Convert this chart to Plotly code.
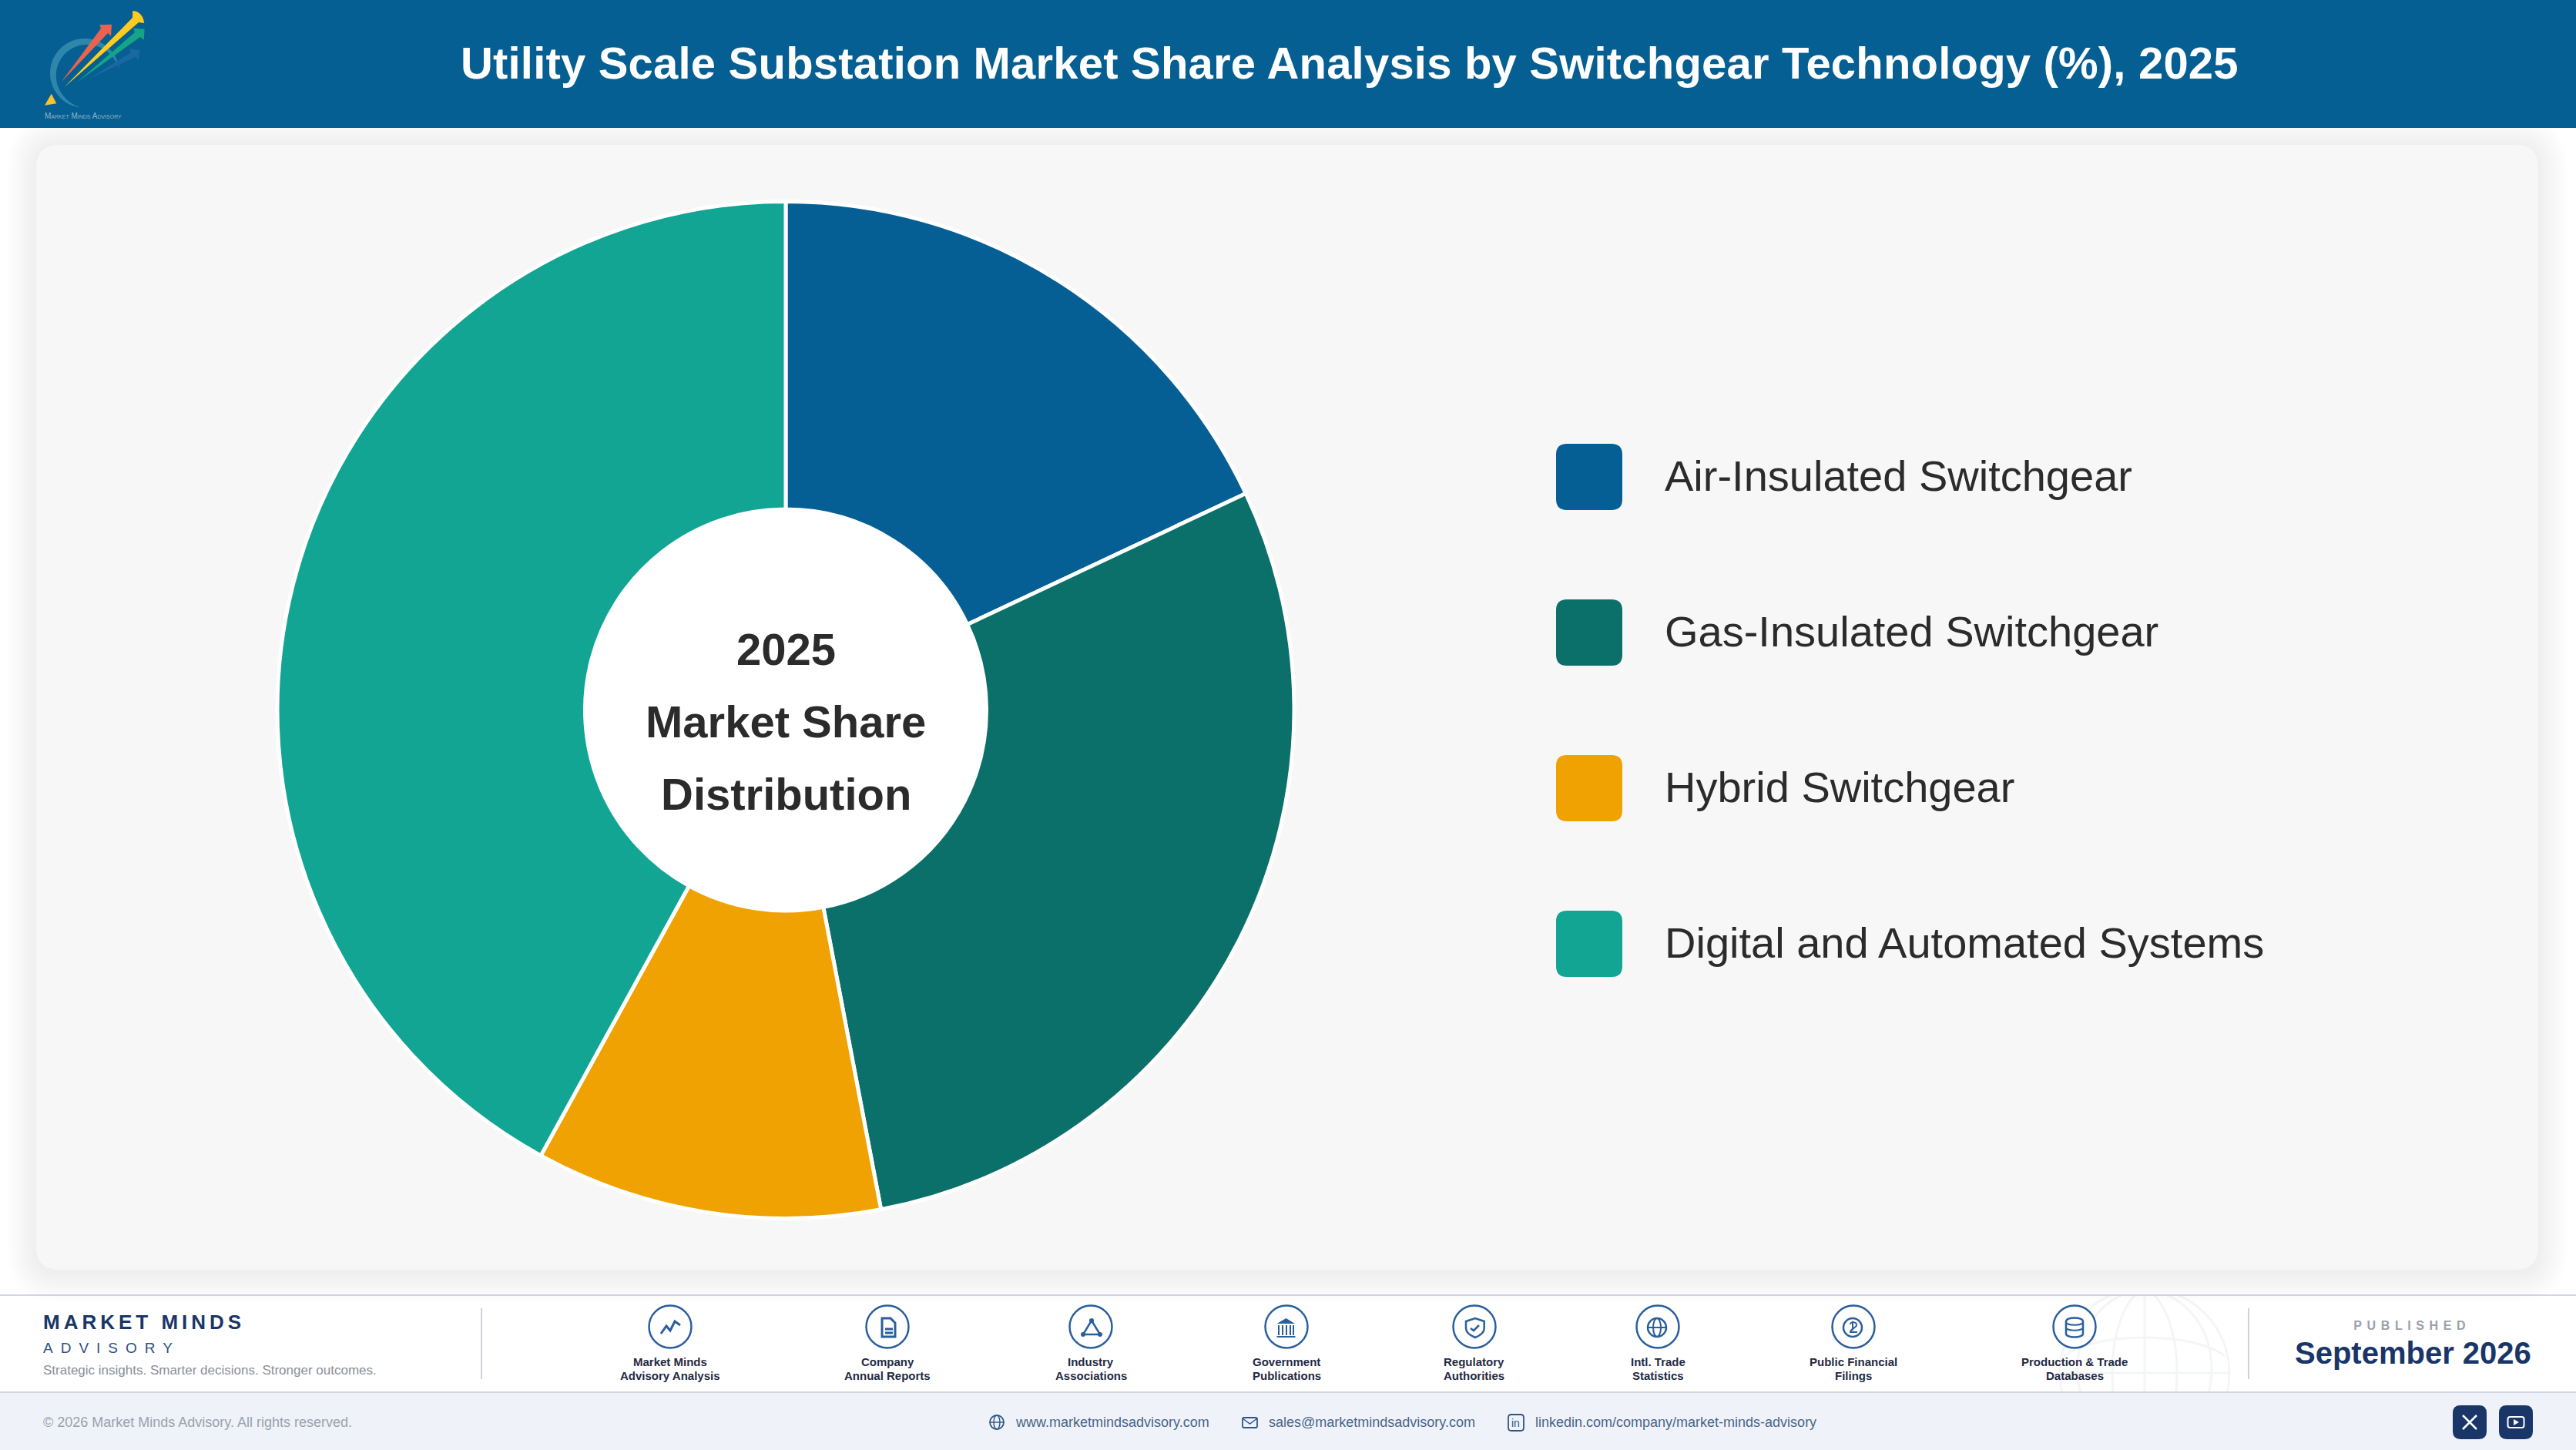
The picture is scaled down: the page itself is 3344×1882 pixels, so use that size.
import json
import numpy as np
import plotly.graph_objects as go

# constants:
W = 3344
H = 1882
HEADER_BLUE = "#055F92"
NAVY = "#1A3668"
ICON_BLUE = "#2A5F9E"
LABEL_DARK = "#1F2A44"
TEXT_DARK = "#2B2B2B"
FONT = "Liberation Sans"

# chart data:
title = "Utility Scale Substation Market Share Analysis by Switchgear Technology (%), 2025"
categories = ["Air-Insulated Switchgear", "Gas-Insulated Switchgear", "Hybrid Switchgear", "Digital and Automated Systems"]
shares = [18, 29, 11, 42]
colors = ["#065F94", "#0B7069", "#F0A202", "#12A594"]
center_lines = ["2025", "Market Share", "Distribution"]

# footer text:
source_line1 = ["Market Minds", "Company", "Industry", "Government", "Regulatory", "Intl. Trade", "Public Financial", "Production & Trade"]
source_line2 = ["Advisory Analysis", "Annual Reports", "Associations", "Publications", "Authorities", "Statistics", "Filings", "Databases"]
source_x = [870, 1152, 1416, 1670, 1914, 2152, 2406, 2693]
contact_text = ["www.marketmindsadvisory.com", "sales@marketmindsadvisory.com", "linkedin.com/company/market-minds-advisory"]
contact_x = [1317, 1646, 1992]

# extra tracking for the spaced out texts, set on the svg after the plot is drawn
letter_spacing = {"MARKET MINDS": 5, "ADVISORY": 10, "PUBLISHED": 6.6, title: 0.2}
shapes = []
annotations = []


# util functions:
def px(x):
    return x / W


def py(y):
    return 1 - y / H


def svg_path(d, cx=0, cy=0):
    # absolute M/L/Q/C/Z commands only, numbers are pixel pairs relative to cx, cy
    out = []
    tokens = d.replace(",", " ").split()
    i = 0
    while i < len(tokens):
        if tokens[i].isalpha():
            out.append(tokens[i])
            i += 1
        else:
            out.append(f"{px(float(tokens[i]) + cx):.6f},{py(float(tokens[i + 1]) + cy):.6f}")
            i += 2
    return " ".join(out)


def add_path(d, cx=0, cy=0, fill="rgba(0,0,0,0)", color=None, width=0, opacity=1.0):
    shapes.append(dict(type="path", xref="paper", yref="paper", path=svg_path(d, cx, cy), fillcolor=fill, opacity=opacity,
                       line=dict(color=color or "rgba(0,0,0,0)", width=width), layer="below"))


def add_rect(x0, y0, x1, y1, fill):
    shapes.append(dict(type="rect", xref="paper", yref="paper", x0=px(x0), x1=px(x1), y0=py(y0), y1=py(y1), fillcolor=fill, line=dict(width=0), layer="below"))


def add_ellipse(cx, cy, rx, ry, fill="rgba(0,0,0,0)", color=None, width=0):
    shapes.append(dict(type="circle", xref="paper", yref="paper", x0=px(cx - rx), x1=px(cx + rx), y0=py(cy - ry), y1=py(cy + ry), fillcolor=fill,
                       line=dict(color=color or "rgba(0,0,0,0)", width=width), layer="below"))


def rrect(x0, y0, x1, y1, r):
    return (f"M {x0 + r} {y0} L {x1 - r} {y0} Q {x1} {y0} {x1} {y0 + r} L {x1} {y1 - r} Q {x1} {y1} {x1 - r} {y1} "
            f"L {x0 + r} {y1} Q {x0} {y1} {x0} {y1 - r} L {x0} {y0 + r} Q {x0} {y0} {x0 + r} {y0} Z")


def add_text(text, x, y, size, color, bold=False, anchor="center", variant=None):
    font = dict(family=FONT, size=size, color=color, weight="bold" if bold else "normal")
    if variant:
        font["variant"] = variant
    annotations.append(dict(text=text, x=px(x), y=py(y), xref="paper", yref="paper", xanchor=anchor, yanchor="middle", align=anchor,
                            showarrow=False, font=font, borderpad=0))


def line_icon(d, cx, cy, width=3):
    add_path(d, cx, cy, color=ICON_BLUE, width=width)


# page background pieces
add_rect(0, 0, W, H, "#FFFFFF")

# faint globe behind the footer, covered above and below by the bands drawn after it
for d in ["M 2784 1672 C 2840 1700 2840 1860 2784 1892", "M 2784 1672 C 2728 1700 2728 1860 2784 1892",
          "M 2784 1672 C 2900 1690 2900 1860 2784 1892", "M 2784 1672 C 2668 1690 2668 1860 2784 1892",
          "M 2784 1672 L 2784 1892", "M 2674 1782 L 2894 1782", "M 2680 1760 C 2720 1728 2848 1728 2888 1760"]:
    add_path(d, color="#F4F5F7", width=3)
add_ellipse(2784, 1782, 110, 110, color="#F4F5F7", width=3)
add_rect(0, 1600, W, 1680, "#FFFFFF")
add_rect(0, 1807, W, H, "#EFF3F9")
add_rect(0, 1680, W, 1682, "#D3D5E4")
add_rect(0, 1806, W, 1808, "#D3D5E4")

# card with a soft shadow
for i in range(16, 0, -1):
    grow = i * 2.4
    add_path(rrect(47 - grow, 190 - grow, 3295 + grow, 1652 + grow, 30 + grow), fill="rgba(60,60,70,0.005)")
add_path(rrect(47, 188, 3295, 1648, 30), fill="#F7F7F8")

# header band
add_rect(0, 0, W, 166, HEADER_BLUE)

# logo
theta = np.radians(np.linspace(-82, 172, 60))
thick = 9 * np.sin(np.linspace(0, np.pi, 60)) ** 0.8
outer = [f"{110 - 45 * np.sin(t):.1f} {95 - 45 * np.cos(t):.1f}" for t in theta]
inner = [f"{110 - (45 - k) * np.sin(t):.1f} {95 - (45 - k) * np.cos(t):.1f}" for t, k in zip(theta[::-1], thick[::-1])]
add_path("M " + " L ".join(outer + inner) + " Z", fill="#2E87AB")
add_path("M 79.3 106.7 L 131 37 L 129.3 32.3 L 145 31.7 L 144 46.7 L 140 43 Z", fill="#E9634F")
add_path("M 83.3 113.3 L 172 23 L 172.3 14 Q 185 15 187.3 30 L 180 29 Z", fill="#FFCB1F")
add_path("M 100 106.7 L 175 42 L 173.3 36.7 L 187.7 37.7 L 186.7 51.7 L 182 48 Z", fill="#14A585")
add_path("M 113.3 103.3 L 170 68.3 L 168.3 63.3 L 181.7 65 L 180 78.3 L 175.7 74 Z", fill="#1A68A3")
add_path("M 66.7 121.7 L 73.3 134.3 L 58 136.7 Z", fill="#FBC02D")
add_text("Market Minds Advisory", 57, 150, 10, "#8FB3C9", anchor="left", variant="small-caps")

add_text(title, 1752, 81, 58, "#FFFFFF", bold=True)

# hole of the donut
hole_radius = 260.5
add_ellipse(1020, 921.5, hole_radius, hole_radius, fill="#FFFFFF")

# legend
for i, name in enumerate(categories):
    top = 576 + i * 202
    add_path(rrect(2020, top, 2106, top + 86, 14), fill=colors[i])
    add_text(name, 2160, top + 41, 56, TEXT_DARK, anchor="left")

for line, y in zip(center_lines, [842, 936, 1030]):
    add_text(line, 1020, y, 58, TEXT_DARK, bold=True)

# footer left block
add_text("MARKET MINDS", 55, 1716, 26, NAVY, bold=True, anchor="left")
add_text("ADVISORY", 55, 1749, 19, "#2E4F86", anchor="left")
add_text("Strategic insights. Smarter decisions. Stronger outcomes.", 55, 1778, 17, "#8A8F99", anchor="left")
add_rect(624, 1698, 626, 1790, "#CDD2DC")
add_rect(2918, 1698, 2920, 1790, "#CDD2DC")

# source icons
for x, l1, l2 in zip(source_x, source_line1, source_line2):
    add_ellipse(x, 1722, 27.5, 27.5, fill="#FFFFFF", color=ICON_BLUE, width=2.5)
    add_text(l1, x, 1767, 15, LABEL_DARK, bold=True)
    add_text(l2, x, 1785, 15, LABEL_DARK, bold=True)

line_icon("M -12 9 L -5 -1 L 0 5 L 6 -7 L 13 -2", source_x[0], 1722)
line_icon("M -7 -11 L 4 -11 L 10 -5 L 10 13 L -7 13 Z M -3 3 L 7 3 M -3 8 L 7 8", source_x[1], 1722)
line_icon("M 1 -8 L -10 10 L 12 10 Z", source_x[2], 1722, 2.5)
for nx, ny in [(1, -8), (-10, 10), (12, 10)]:
    add_ellipse(source_x[2] + nx, 1722 + ny, 3, 3, fill=ICON_BLUE)
add_path("M -12.5 -4 L -0.5 -11 L 11 -4 Z", source_x[3], 1722, fill=ICON_BLUE)
for cx in [-10, -5, 0, 5, 9]:
    add_rect(source_x[3] + cx - 1, 1720, source_x[3] + cx + 1, 1733, ICON_BLUE)
add_rect(source_x[3] - 12.5, 1734, source_x[3] + 11.5, 1736, ICON_BLUE)
line_icon("M -11 -7 L 1 -11 L 12.7 -7 L 12.7 2 C 12.7 8 6 12 1 14 C -4 12 -11 8 -11 2 Z", source_x[4], 1722, 2.5)
line_icon("M -5 2 L -1 5 L 6 -2", source_x[4], 1722, 2.5)
add_ellipse(source_x[5] - 1, 1723, 12, 12, color=ICON_BLUE, width=2.5)
add_ellipse(source_x[5] - 1, 1723, 5, 12, color=ICON_BLUE, width=2)
line_icon("M -13 1 L 11 1", source_x[5], 1722, 2)
add_ellipse(source_x[6] - 1, 1723, 12, 12, color=ICON_BLUE, width=2.5)
line_icon("M -4 -3 C -4 -7 4 -7 4 -2 C 4 1 -4 3 -4 7 L 5 7 M -1 -7 L -1 5", source_x[6], 1722, 2)
line_icon("M -11 -7 C -11 -13 11 -13 11 -7 L 11 9 C 11 15 -11 15 -11 9 Z", source_x[7], 1722, 2.5)
line_icon("M -11 -6 C -11 -1 11 -1 11 -6 M -11 1 C -11 6 11 6 11 1", source_x[7], 1722, 2)

# published block
add_text("PUBLISHED", 3131, 1720, 16, "#9AA0AA", bold=True)
add_text("September 2026", 3132, 1756, 40, NAVY, bold=True)

# bottom bar
add_text("\u00a9 2026 Market Minds Advisory. All rights reserved.", 55, 1846, 18, "#9AA1AD", anchor="left")
for x, text in zip(contact_x, contact_text):
    add_text(text, x, 1846, 18, "#4A6488", anchor="left")
add_ellipse(1294, 1846, 9, 9, color="#2F5587", width=1.8)
add_ellipse(1294, 1846, 4, 9, color="#2F5587", width=1.4)
add_path("M 1285 1846 L 1303 1846", color="#2F5587", width=1.4)
add_path(rrect(1613, 1840, 1632, 1853, 2), color="#2F5587", width=1.8)
add_path("M 1613 1841 L 1622.5 1848 L 1632 1841", color="#2F5587", width=1.5)
add_path(rrect(1958, 1836, 1978, 1857, 4), color="#2F5587", width=1.8)
add_text("in", 1968, 1847, 14, "#2F5587")

# social buttons
add_path(rrect(3184, 1824, 3228, 1868, 10), fill=NAVY)
add_path(rrect(3244, 1824, 3288, 1868, 10), fill=NAVY)
add_path("M 3197 1837 L 3215 1855 M 3215 1837 L 3197 1855", color="#FFFFFF", width=2.5)
add_path(rrect(3255.5, 1839, 3276.5, 1853, 3), color="#FFFFFF", width=2)
add_path("M 3263 1842 L 3270 1846 L 3263 1850 Z", fill="#FFFFFF")

radius = 660
figure = go.Figure()
figure.add_trace(go.Pie(labels=categories, values=shares, hole=hole_radius / radius, sort=False, direction="clockwise", rotation=0,
                        marker=dict(colors=colors, line=dict(color="#FFFFFF", width=5)), textinfo="none", hoverinfo="skip", showlegend=False,
                        domain=dict(x=[px(1020 - radius), px(1020 + radius)], y=[py(921.5 + radius), py(921.5 - radius)])))
figure.update_layout(width=W, height=H, margin=dict(l=0, r=0, t=0, b=0, pad=0), paper_bgcolor="#FFFFFF", plot_bgcolor="#FFFFFF", shapes=shapes, annotations=annotations,
                     font=dict(family=FONT))

post_script = """
document.body.style.margin = '0';
document.body.style.overflow = 'hidden';
var spacing = %s;
document.querySelectorAll('.annotation-text').forEach(function (el) {
  if (spacing[el.textContent]) { el.style.letterSpacing = spacing[el.textContent] + 'px'; }
});
""" % json.dumps(letter_spacing)
figure.write_html("out.html", post_script=post_script, config=dict(displayModeBar=False))
